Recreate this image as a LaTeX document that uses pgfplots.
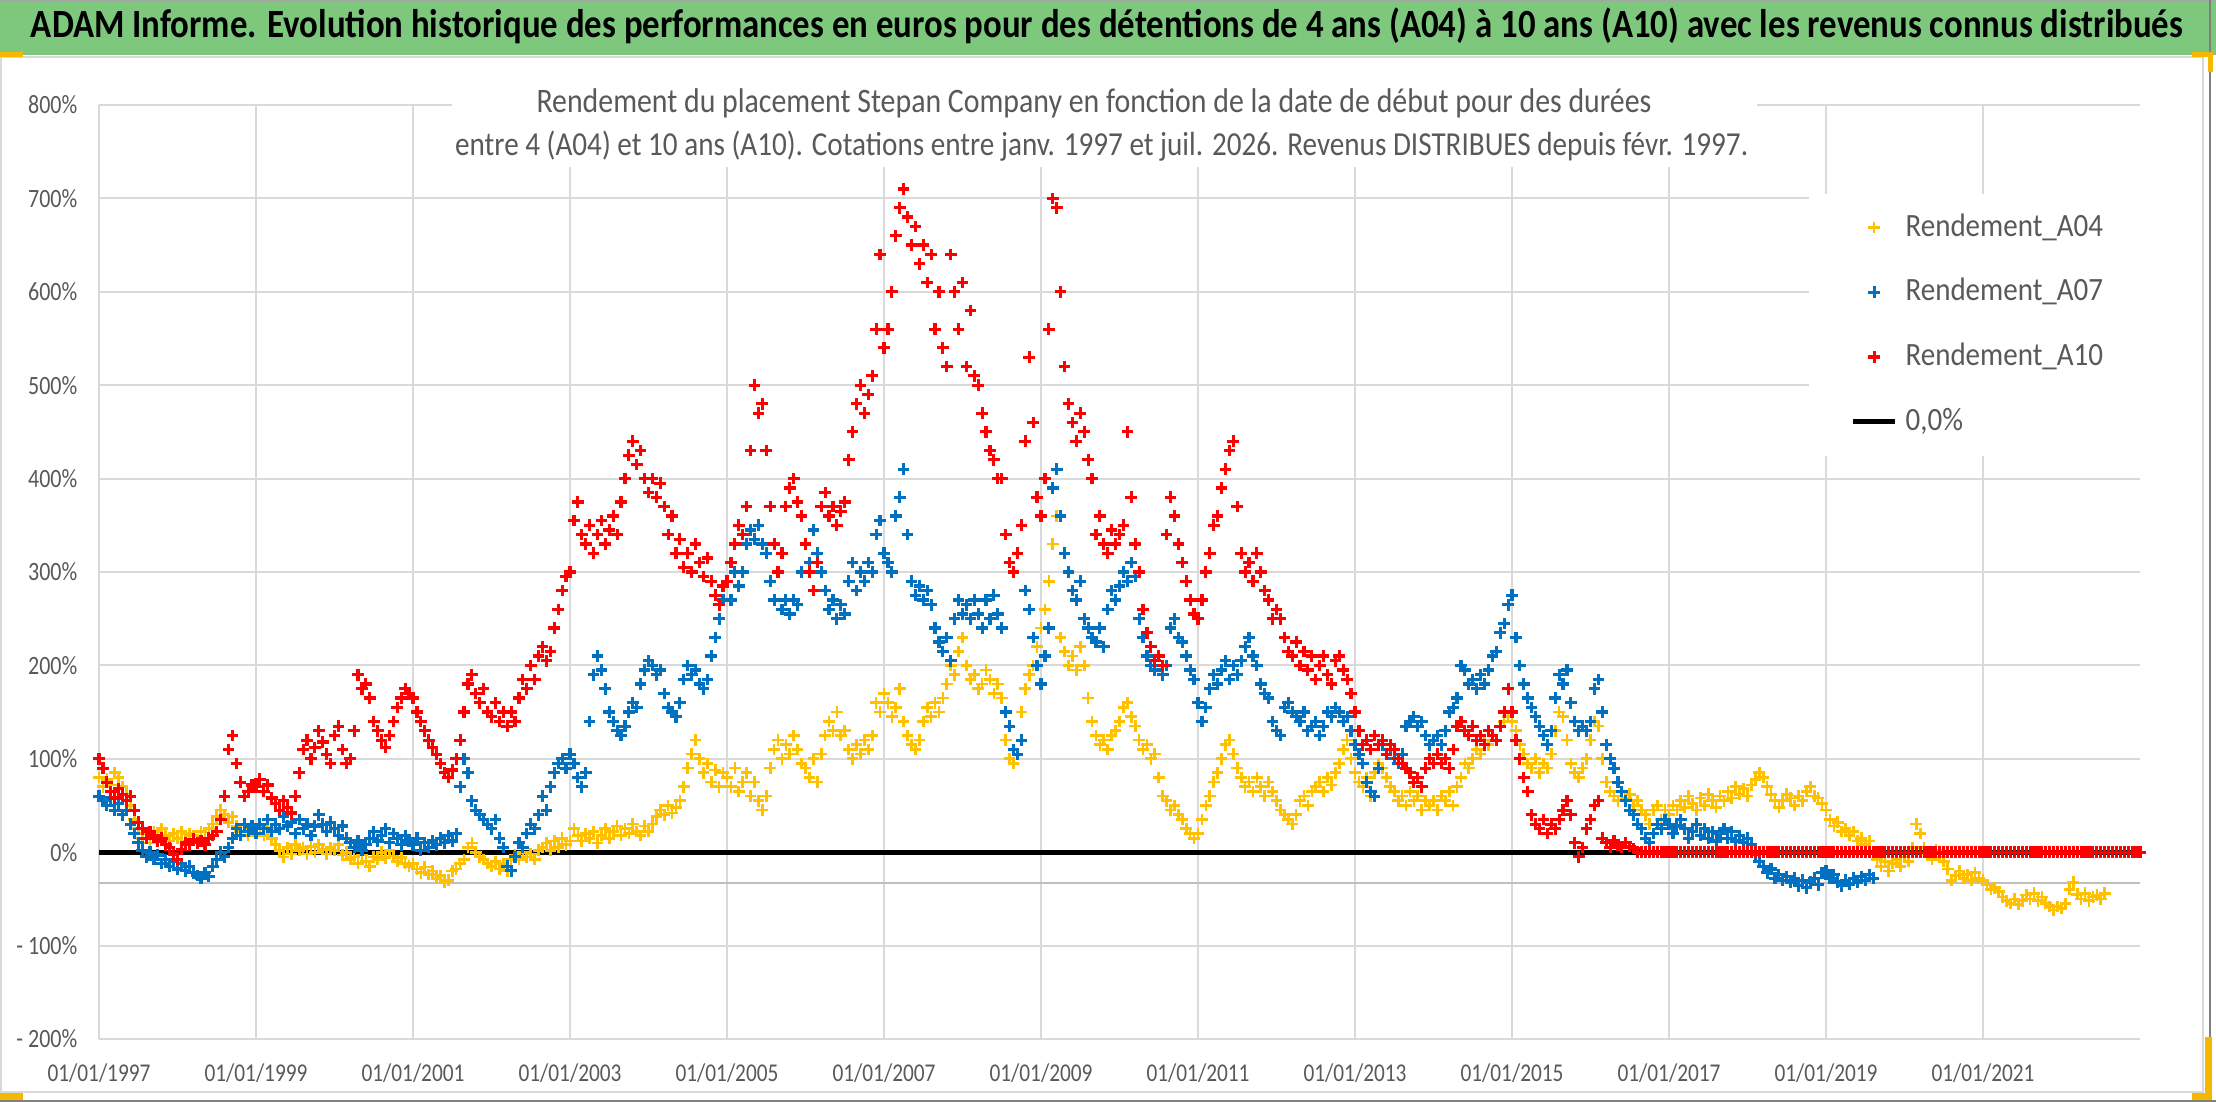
\documentclass[border=0pt]{standalone}
\usepackage{fontspec}
\setmainfont{Carlito}
\usepackage{graphicx}
\usepackage{pgfplots}
\usepackage{pgfplotstable}
\pgfplotsset{compat=1.18}
\definecolor{cA}{HTML}{FFC000}
\definecolor{cB}{HTML}{0070C0}
\definecolor{cC}{HTML}{FF0000}
\definecolor{tickgray}{HTML}{595959}
\definecolor{gridgray}{HTML}{D9D9D9}
\definecolor{axgray}{HTML}{BFBFBF}
\definecolor{bargreen}{HTML}{7DC87D}
\definecolor{handle}{HTML}{F4B800}

% Rendement_A04 : one value every 0.05 year from 01/01/1997
\pgfplotstableread[row sep=\\,header=false]{
80\\70\\78\\72\\85\\80\\70\\62\\50\\35\\25\\15\\20\\10\\22\\15\\25\\18\\12\\20\\
15\\22\\12\\20\\18\\10\\22\\15\\25\\30\\38\\45\\40\\32\\38\\28\\22\\30\\18\\25\\
20\\28\\18\\25\\15\\8\\2\\-5\\5\\-2\\8\\2\\5\\-2\\6\\0\\8\\3\\-2\\5\\
2\\8\\-3\\0\\-8\\-5\\-12\\-3\\-10\\-15\\-5\\-8\\0\\-6\\2\\-4\\-10\\-6\\-12\\-15\\
-12\\-18\\-22\\-16\\-24\\-20\\-28\\-25\\-32\\-30\\-20\\-18\\-12\\-8\\5\\10\\0\\-5\\-8\\-12\\
-15\\-10\\-18\\-12\\-20\\-8\\-3\\-8\\0\\-5\\-2\\-8\\2\\5\\10\\2\\12\\5\\15\\8\\
12\\25\\18\\12\\20\\15\\22\\10\\18\\25\\15\\22\\28\\18\\25\\20\\30\\22\\18\\28\\
22\\30\\38\\45\\40\\50\\42\\48\\55\\70\\90\\105\\120\\100\\85\\95\\75\\88\\70\\85\\
80\\70\\90\\65\\75\\85\\60\\75\\55\\45\\60\\90\\110\\120\\100\\115\\105\\125\\110\\95\\
90\\80\\100\\75\\105\\125\\140\\130\\150\\125\\130\\110\\100\\115\\105\\120\\110\\125\\160\\150\\
170\\160\\145\\155\\175\\140\\125\\115\\110\\120\\140\\155\\145\\160\\150\\165\\180\\200\\190\\215\\
230\\200\\185\\190\\175\\180\\195\\185\\170\\180\\165\\120\\100\\95\\105\\150\\175\\190\\200\\220\\
240\\260\\290\\330\\360\\230\\215\\200\\210\\195\\220\\200\\165\\140\\125\\115\\120\\110\\125\\130\\
140\\155\\160\\145\\135\\120\\110\\115\\100\\105\\80\\60\\55\\45\\50\\40\\35\\25\\20\\15\\
20\\35\\50\\60\\75\\85\\100\\115\\120\\105\\90\\80\\70\\75\\65\\80\\70\\60\\75\\65\\
55\\45\\40\\35\\30\\40\\55\\60\\50\\65\\70\\75\\65\\80\\72\\85\\95\\110\\120\\100\\
85\\75\\70\\80\\60\\85\\95\\90\\80\\70\\65\\55\\60\\50\\65\\55\\60\\45\\55\\50\\
55\\45\\60\\55\\65\\50\\70\\80\\95\\90\\100\\110\\105\\120\\115\\125\\120\\135\\140\\145\\
140\\130\\115\\105\\95\\90\\100\\85\\95\\90\\105\\130\\150\\145\\120\\95\\85\\80\\90\\100\\
120\\140\\135\\100\\75\\65\\60\\55\\65\\58\\62\\50\\55\\45\\40\\30\\45\\50\\35\\45\\
40\\50\\45\\55\\48\\60\\52\\45\\58\\50\\62\\55\\48\\60\\55\\65\\58\\70\\62\\68\\
60\\72\\78\\85\\80\\70\\62\\55\\48\\55\\62\\58\\50\\60\\55\\65\\70\\60\\58\\52\\
45\\35\\28\\32\\22\\25\\18\\22\\12\\15\\8\\12\\0\\-8\\-15\\-10\\-20\\-12\\-8\\-15\\
-5\\-10\\5\\30\\20\\5\\-2\\-8\\2\\-5\\-10\\-18\\-30\\-25\\-20\\-28\\-24\\-30\\-22\\-28\\
-30\\-35\\-40\\-38\\-42\\-48\\-52\\-55\\-50\\-56\\-52\\-46\\-50\\-44\\-52\\-48\\-55\\-58\\-62\\-58\\
-60\\-55\\-40\\-32\\-45\\-50\\-44\\-52\\-48\\-46\\-50\\-44\\
}\tA

% Rendement_A07
\pgfplotstableread[row sep=\\,header=false]{
60\\55\\50\\58\\45\\52\\40\\45\\30\\20\\10\\2\\-5\\0\\-8\\-3\\-12\\-8\\-15\\-10\\
-18\\-12\\-20\\-15\\-22\\-25\\-28\\-22\\-26\\-15\\-8\\0\\-5\\5\\15\\25\\18\\30\\22\\28\\
20\\30\\25\\35\\22\\30\\25\\38\\28\\32\\20\\35\\25\\30\\18\\28\\40\\30\\22\\32\\
25\\18\\28\\15\\10\\5\\12\\2\\8\\15\\22\\12\\18\\25\\10\\20\\15\\8\\18\\12\\
8\\15\\2\\10\\5\\12\\8\\15\\10\\18\\12\\20\\70\\100\\85\\55\\45\\40\\35\\30\\
25\\35\\15\\5\\-15\\-20\\-5\\10\\5\\20\\30\\25\\40\\60\\45\\70\\85\\95\\100\\90\\
105\\95\\80\\70\\85\\140\\190\\210\\195\\175\\150\\140\\130\\125\\135\\150\\160\\155\\180\\195\\
205\\200\\190\\195\\170\\155\\150\\145\\160\\185\\200\\190\\195\\180\\175\\185\\210\\230\\250\\270\\
290\\270\\300\\285\\300\\330\\345\\335\\350\\330\\320\\290\\270\\300\\260\\270\\255\\270\\265\\300\\
330\\310\\345\\320\\300\\280\\260\\270\\250\\265\\255\\290\\310\\280\\300\\290\\310\\300\\340\\355\\
320\\310\\300\\360\\380\\410\\340\\290\\275\\285\\270\\280\\265\\240\\225\\215\\230\\205\\250\\270\\
255\\265\\250\\270\\255\\240\\270\\250\\275\\255\\240\\150\\135\\110\\105\\120\\280\\260\\230\\200\\
180\\210\\240\\390\\410\\360\\320\\300\\280\\270\\290\\250\\240\\230\\225\\240\\220\\260\\280\\270\\
285\\300\\290\\310\\295\\250\\230\\210\\200\\195\\210\\190\\200\\240\\250\\230\\225\\210\\195\\185\\
160\\140\\155\\175\\190\\180\\195\\205\\185\\200\\190\\205\\220\\230\\210\\200\\180\\170\\165\\140\\
130\\125\\155\\160\\150\\145\\140\\150\\130\\135\\140\\125\\135\\150\\145\\155\\150\\140\\145\\130\\
115\\105\\95\\75\\65\\60\\90\\115\\105\\110\\100\\95\\105\\135\\140\\145\\135\\140\\125\\115\\
120\\125\\115\\130\\150\\155\\165\\200\\195\\180\\185\\175\\190\\180\\195\\210\\215\\235\\245\\265\\
275\\230\\200\\180\\165\\155\\145\\135\\125\\115\\130\\165\\190\\180\\195\\160\\140\\130\\135\\130\\
140\\175\\185\\150\\115\\100\\90\\75\\65\\55\\45\\40\\30\\25\\15\\10\\20\\30\\25\\35\\
30\\20\\28\\35\\25\\15\\22\\30\\18\\25\\15\\22\\12\\20\\25\\15\\22\\12\\18\\10\\
15\\8\\-2\\-10\\-15\\-22\\-18\\-28\\-24\\-30\\-26\\-32\\-28\\-36\\-30\\-38\\-32\\-28\\-35\\-22\\
-20\\-28\\-24\\-32\\-36\\-30\\-34\\-28\\-32\\-26\\-30\\-24\\-28\\
}\tB

% Rendement_A10
\pgfplotstableread[row sep=\\,header=false]{
100\\90\\75\\65\\58\\68\\62\\55\\60\\45\\32\\25\\15\\22\\18\\12\\15\\8\\5\\-2\\
-8\\3\\10\\8\\14\\10\\12\\8\\15\\18\\22\\35\\60\\110\\125\\95\\75\\60\\65\\72\\
70\\78\\65\\72\\58\\52\\45\\55\\48\\42\\60\\85\\110\\120\\100\\112\\130\\118\\105\\95\\
125\\135\\110\\95\\100\\130\\190\\175\\180\\165\\140\\130\\120\\112\\125\\140\\155\\165\\175\\170\\
165\\150\\140\\130\\120\\112\\105\\95\\85\\80\\88\\100\\120\\150\\180\\190\\170\\160\\175\\150\\
145\\160\\140\\150\\135\\150\\140\\165\\185\\175\\200\\185\\210\\220\\205\\215\\240\\260\\280\\295\\
300\\355\\375\\340\\330\\350\\320\\340\\355\\330\\345\\360\\340\\375\\400\\425\\440\\415\\430\\400\\
385\\400\\380\\395\\370\\340\\360\\320\\335\\305\\320\\300\\330\\310\\295\\315\\290\\275\\265\\285\\
290\\310\\330\\350\\340\\370\\430\\500\\470\\480\\430\\370\\330\\300\\320\\370\\390\\400\\375\\360\\
330\\300\\280\\310\\370\\385\\360\\370\\350\\365\\375\\420\\450\\480\\500\\470\\490\\510\\560\\640\\
540\\560\\600\\660\\690\\710\\680\\650\\670\\630\\650\\610\\640\\560\\600\\540\\520\\640\\600\\560\\
610\\520\\580\\510\\500\\470\\450\\430\\420\\400\\400\\340\\310\\300\\320\\350\\440\\530\\460\\380\\
360\\400\\560\\700\\690\\600\\520\\480\\460\\440\\470\\450\\420\\400\\340\\360\\330\\320\\345\\330\\
340\\350\\450\\380\\330\\300\\260\\235\\220\\205\\210\\200\\340\\380\\360\\330\\310\\290\\270\\255\\
250\\270\\300\\320\\350\\360\\390\\410\\430\\440\\370\\320\\300\\310\\290\\320\\300\\280\\270\\250\\
260\\250\\230\\215\\210\\225\\200\\215\\195\\210\\185\\200\\210\\190\\180\\205\\210\\195\\185\\170\\
150\\130\\115\\120\\110\\125\\115\\120\\105\\115\\110\\100\\95\\90\\85\\75\\80\\70\\90\\100\\
95\\105\\95\\100\\90\\110\\135\\140\\130\\125\\135\\120\\125\\115\\130\\125\\120\\135\\150\\175\\
150\\120\\100\\80\\65\\40\\30\\25\\35\\20\\30\\25\\35\\45\\55\\40\\10\\-5\\5\\25\\
35\\50\\55\\15\\10\\5\\12\\8\\5\\10\\6\\4\\0\\0\\0\\0\\0\\0\\0\\0\\
0\\0\\0\\0\\0\\0\\0\\0\\0\\0\\0\\0\\0\\0\\0\\0\\0\\0\\0\\0\\
0\\0\\0\\0\\0\\0\\0\\0\\0\\0\\0\\0\\0\\0\\0\\0\\0\\0\\0\\0\\
0\\0\\0\\0\\0\\0\\0\\0\\0\\0\\0\\0\\0\\0\\0\\0\\0\\0\\0\\0\\
0\\0\\0\\0\\0\\0\\0\\0\\0\\0\\0\\0\\0\\0\\0\\0\\0\\0\\0\\0\\
0\\0\\0\\0\\0\\0\\0\\0\\0\\0\\0\\0\\0\\0\\0\\0\\0\\0\\0\\0\\
0\\0\\0\\0\\0\\0\\0\\0\\0\\0\\0\\0\\0\\0\\0\\0\\0\\0\\0\\0\\
0\\
}\tC

\begin{document}
\begin{tikzpicture}
\path[use as bounding box] (0,0) rectangle (664.8pt,330.6pt);
\fill[white] (0,0) rectangle (664.8pt,330.6pt);
\fill[bargreen] (0,314.1pt) rectangle (664.8pt,330.6pt);
\draw[gray!70, line width=0.6pt] (0,330.3pt) -- (664.8pt,330.3pt);
\node[anchor=base, font=\bfseries, inner sep=0pt] at (332.1pt,319.3pt)
  {\scalebox{1}[1.15]{\resizebox{645.6pt}{!}{ADAM Informe. Evolution historique des performances en euros pour des détentions de 4 ans (A04) à 10 ans (A10) avec les revenus connus distribués}}};

\begin{axis}[
  at={(29.7pt,18.9pt)}, anchor=south west,
  scale only axis, width=612.3pt, height=280.2pt,
  xmin=1997, xmax=2023, ymin=-200, ymax=800,
  clip=false,
  axis line style={draw=none},
  major tick length=0pt,
  xtick={1997,1999,2001,2003,2005,2007,2009,2011,2013,2015,2017,2019,2021},
  xticklabels={01/01/1997,01/01/1999,01/01/2001,01/01/2003,01/01/2005,01/01/2007,01/01/2009,01/01/2011,01/01/2013,01/01/2015,01/01/2017,01/01/2019,01/01/2021},
  ytick={-200,-100,0,100,200,300,400,500,600,700,800},
  yticklabels={- 200\%,- 100\%,0\%,100\%,200\%,300\%,400\%,500\%,600\%,700\%,800\%},
  xmajorgrids, ymajorgrids,
  major grid style={draw=gridgray, line width=0.6pt},
  extra y ticks={-33}, extra y tick labels={},
  extra y tick style={grid=major, major grid style={draw=axgray, line width=0.7pt}},
  xticklabel style={font=\fontsize{6.4}{7}\selectfont, text=tickgray, anchor=center, yshift=-10.2pt, yscale=1.2},
  yticklabel style={font=\fontsize{6.6}{7}\selectfont, text=tickgray, anchor=east, inner sep=0pt, xshift=-6.3pt, yscale=1.2},
  legend cell align=left,
  legend image code/.code={\draw[mark repeat=2,mark phase=2,#1] plot coordinates {(0pt,0pt) (6.3pt,0pt) (12.6pt,0pt)};},
  legend style={at={(rel axis cs:0.8373,0.9058)}, anchor=north west,
    draw=none, fill=white, inner xsep=12.6pt, inner ysep=6pt,
    row sep=11pt, column sep=2.4pt,
    font=\fontsize{8.7}{10}\selectfont,
    nodes={inner sep=0pt, text height=6pt, text depth=1.5pt, yscale=1.12}},
]
\addplot[forget plot, black, line width=1.5pt] coordinates {(1997,0) (2023,0)};
\addplot[only marks, mark=+, mark size=1.75pt, color=cA, mark options={line width=0.8pt}]
  table[x expr=1997+0.05*\coordindex, y index=0] {\tA};
\addlegendentry{\textcolor{tickgray}{Rendement\_A04}}
\addplot[only marks, mark=+, mark size=1.75pt, color=cB, mark options={line width=0.95pt}]
  table[x expr=1997+0.05*\coordindex, y index=0] {\tB};
\addlegendentry{\textcolor{tickgray}{Rendement\_A07}}
\addplot[only marks, mark=+, mark size=1.75pt, color=cC, mark options={line width=0.95pt}]
  table[x expr=1997+0.05*\coordindex, y index=0] {\tC};
\addlegendentry{\textcolor{tickgray}{Rendement\_A10}}
\addlegendimage{black, line width=1.5pt}
\addlegendentry{\textcolor{tickgray}{0,0\%}}
\end{axis}

\fill[white] (135.6pt,280.4pt) rectangle (527.1pt,306pt);
\node[anchor=base, text=tickgray, inner sep=0pt] at (328.2pt,296.7pt)
  {\scalebox{1}[1.15]{\resizebox{334.5pt}{!}{Rendement du placement Stepan Company en fonction de la date de début pour des durées}}};
\node[anchor=base, text=tickgray, inner sep=0pt] at (330.5pt,283.8pt)
  {\scalebox{1}[1.15]{\resizebox{387.9pt}{!}{entre 4 (A04) et 10 ans (A10). Cotations entre janv. 1997 et juil. 2026. Revenus DISTRIBUES depuis févr. 1997.}}};

\draw[gridgray, line width=0.6pt] (0.3pt,3pt) rectangle (660.9pt,313.4pt);
\draw[gray, line width=0.6pt] (663pt,0) -- (663pt,330.6pt);
\draw[gray, line width=0.6pt] (0,0.3pt) -- (664.8pt,0.3pt);
\fill[handle] (0,313.5pt) rectangle (6.9pt,315pt);
\fill[handle] (657.6pt,313.5pt) rectangle (663.9pt,315pt);
\fill[handle] (662.4pt,309pt) rectangle (663.9pt,315pt);
\fill[handle] (661.5pt,0.6pt) rectangle (663.6pt,19.5pt);
\fill[handle] (657.6pt,0.6pt) rectangle (663.6pt,2.7pt);
\fill[handle] (0,0.6pt) rectangle (6.9pt,2.7pt);
\end{tikzpicture}
\end{document}
